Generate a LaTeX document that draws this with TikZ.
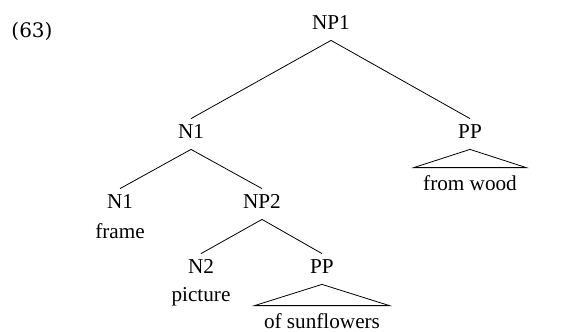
\documentclass[tikz,border=0pt]{standalone}
\usepackage{fontspec}
\setmainfont{Liberation Serif}
\newfontfamily\exfont{DejaVu Serif}
\tikzstyle{cat}=[anchor=base, inner xsep=1pt, inner ysep=2.5pt, text height=7pt, text depth=3pt]
\tikzstyle{word}=[anchor=base, inner sep=0pt]
\tikzstyle{roof}=[anchor=base, inner xsep=4.5pt, inner ysep=4pt, text height=7pt, text depth=0pt]
\begin{document}
\begin{tikzpicture}[x=0.5pt, y=-0.5pt, font=\fontsize{10.6}{12}\selectfont]
        \useasboundingbox (0, 0) rectangle (584, 332);
        \node[word, font=\exfont\fontsize{10}{12}\selectfont] (ex) at (32, 38) {(63)};
        \node[cat] (NP1) at (331, 29) {NP1};
        \node[cat] (N1) at (191, 138) {N1};
        \node[cat] (PPa) at (470, 138) {PP};
        \node[roof] (wood) at (470, 190) {from wood};
        \node[cat] (N1b) at (120, 208) {N1};
        \node[word] (frame) at (120, 238) {frame};
        \node[cat] (NP2) at (262, 208) {NP2};
        \node[cat] (N2) at (201, 273) {N2};
        \node[word] (picture) at (201, 301) {picture};
        \node[cat] (PPb) at (322, 273) {PP};
        \node[roof] (sunfl) at (322, 328) {of sunflowers};
        \draw (N1.north) -- (NP1.south) -- (PPa.north);
        \draw (N1b.north) -- (N1.south) -- (NP2.north);
        \draw (N2.north) -- (NP2.south) -- (PPb.north);
        \draw (PPa.south) -- (wood.north west) -- (wood.north east) -- cycle;
        \draw (PPb.south) -- (sunfl.north west) -- (sunfl.north east) -- cycle;
    \end{tikzpicture}
\end{document}
